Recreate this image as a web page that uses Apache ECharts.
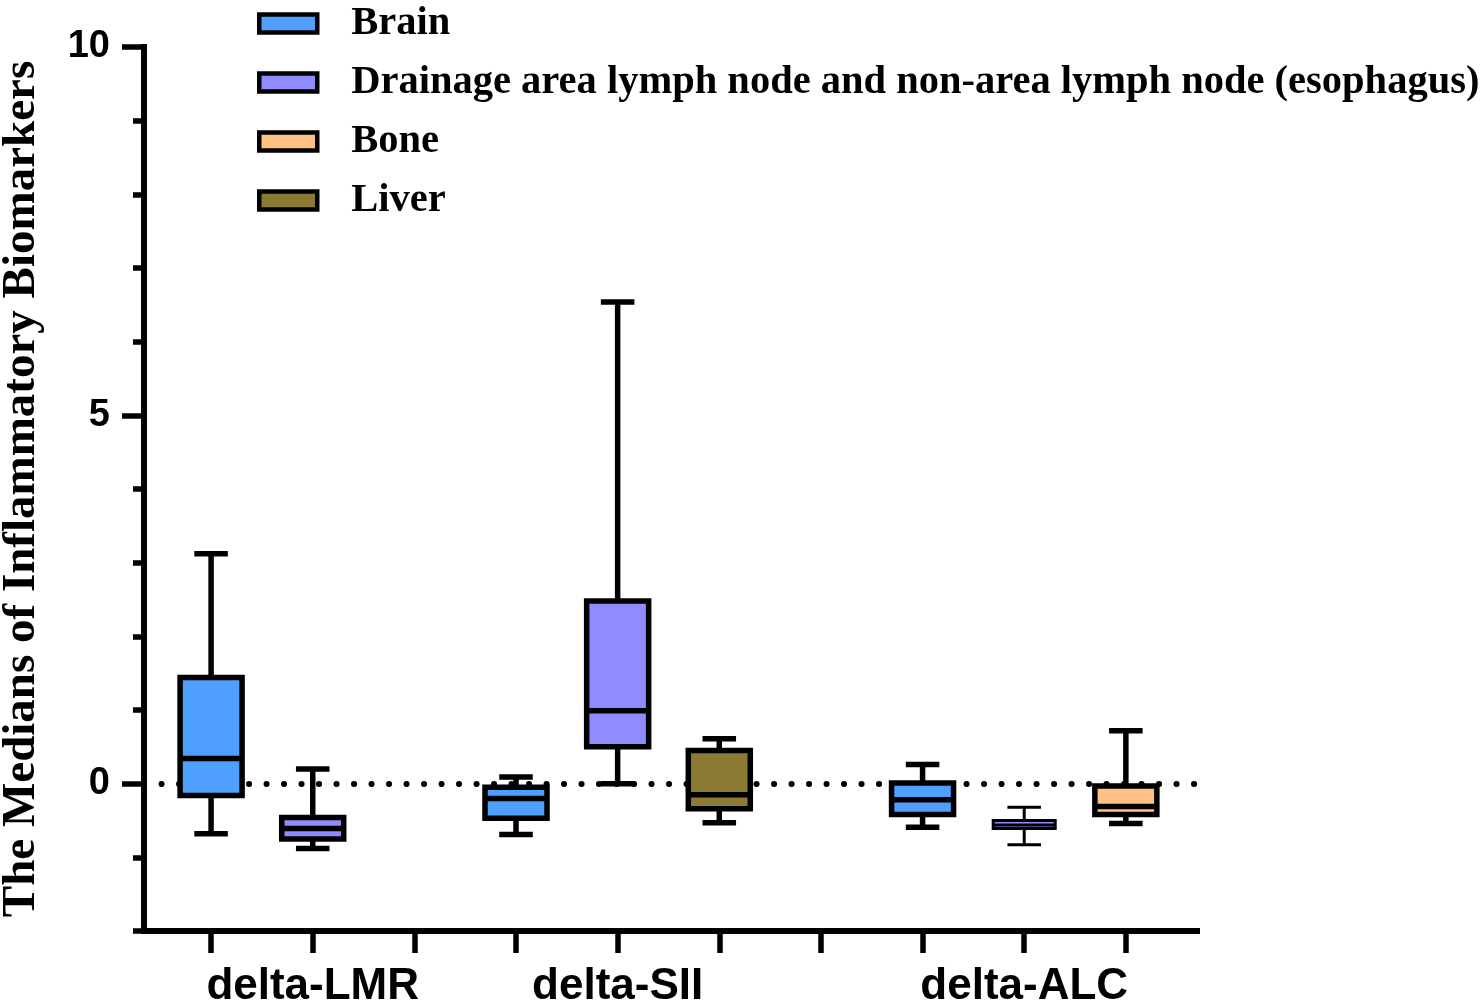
<!DOCTYPE html>
<html lang="en">

<head>
  <meta charset="UTF-8">
  <title>Medians of Inflammatory Biomarkers</title>
  <script src="https://cdn.jsdelivr.net/npm/echarts@6.0.0/dist/echarts.min.js"></script>
  <style>
    html, body {
      margin: 0;
      background: #fff;
    }

    #chart {
      width: 1480px;
      height: 1008px;
    }
  </style>
</head>

<body>
  <div id="chart"></div>

  <script>
    // group names (legend order)
    const groupNames = [
      'Brain',
      'Drainage area lymph node and non-area lymph node (esophagus)',
      'Bone',
      'Liver'
    ]
    const groupColors = ['#4f9fff', '#8f8cff', '#ffc285', '#8a7a33']

    // each row: [slot, min, Q1, median, Q3, max]
    const brain = [
      [1, -0.68, -0.16, 0.34, 1.44, 3.12],
      [4, -0.69, -0.47, -0.20, -0.05, 0.09],
      [8, -0.59, -0.42, -0.22, 0.01, 0.26]
    ]
    const drainage = [
      [2, -0.88, -0.75, -0.61, -0.46, 0.20],
      [5, 0.00, 0.50, 0.99, 2.48, 6.54],
      [9, -0.83, -0.61, -0.56, -0.50, -0.32]
    ]
    const bone = [
      [10, -0.54, -0.42, -0.31, -0.03, 0.72]
    ]
    const liver = [
      [6, -0.53, -0.34, -0.15, 0.45, 0.61]
    ]

    // x slots with ticks, and the category labels under them
    const xTickSlots = [1, 2, 3, 4, 5, 6, 7, 8, 9, 10]
    const xLabelSlots = [2, 5, 9]
    const xLabels = ['delta-LMR', 'delta-SII', 'delta-ALC']
    const yLabelValues = [0, 5, 10]

    const boxWidth = 0.61
    const capWidth = 0.33

    function renderBox(params, api) {
      const x = api.value(0)
      const lo = api.coord([x, api.value(1)])
      const q1 = api.coord([x, api.value(2)])
      const md = api.coord([x, api.value(3)])
      const q3 = api.coord([x, api.value(4)])
      const hi = api.coord([x, api.value(5)])
      const half = api.size([boxWidth, 0])[0] / 2
      const cap = api.size([capWidth, 0])[0] / 2
      // very flat boxes are drawn with thinner strokes, as in the original
      const lw = (q1[1] - q3[1]) < 15 ? 3 : 5.5
      const line = { stroke: '#000', lineWidth: lw }
      const cx = hi[0]
      return {
        type: 'group',
        children: [
          { type: 'line', shape: { x1: cx, y1: hi[1], x2: cx, y2: q3[1] }, style: line },
          { type: 'line', shape: { x1: cx, y1: lo[1], x2: cx, y2: q1[1] }, style: line },
          { type: 'line', shape: { x1: cx - cap, y1: hi[1], x2: cx + cap, y2: hi[1] }, style: line },
          { type: 'line', shape: { x1: cx - cap, y1: lo[1], x2: cx + cap, y2: lo[1] }, style: line },
          {
            type: 'rect',
            shape: { x: cx - half, y: q3[1], width: half * 2, height: q1[1] - q3[1] },
            style: { fill: api.visual('color'), stroke: '#000', lineWidth: lw }
          },
          { type: 'line', shape: { x1: cx - half, y1: md[1], x2: cx + half, y2: md[1] }, style: line }
        ]
      }
    }

    function boxSeries(name, data, color) {
      return {
        name: name,
        type: 'custom',
        renderItem: renderBox,
        itemStyle: { color: color },
        encode: { x: 0, y: [1, 2, 3, 4, 5] },
        data: data,
        z: 3
      }
    }

    const sans = 'Liberation Sans, Arial, sans-serif'
    const serif = 'Liberation Serif, Times New Roman, serif'

    const myChart = echarts.init(document.getElementById('chart'))
    const option = {
      animation: false,
      backgroundColor: '#fff',
      grid: {
        left: 144,
        right: 283,
        top: 47,
        bottom: 77,
        outerBoundsMode: 'none'
      },
      legend: {
        orient: 'vertical',
        left: 252,
        top: -2,
        itemWidth: 58,
        itemHeight: 18,
        itemGap: 18,
        selectedMode: false,
        textStyle: {
          fontFamily: serif,
          fontWeight: 'bold',
          fontSize: 40.5,
          color: '#000',
          padding: [0, 0, 0, 29]
        },
        data: groupNames.map((n, i) => ({
          name: n,
          icon: 'rect',
          itemStyle: { color: groupColors[i], borderColor: '#000', borderWidth: 4.5 }
        }))
      },
      xAxis: {
        type: 'value',
        min: 0.34,
        max: 10.7,
        splitLine: { show: false },
        axisLine: { onZero: false, lineStyle: { color: '#000', width: 6, cap: 'square' } },
        axisTick: {
          customValues: xTickSlots,
          length: 22,
          lineStyle: { color: '#000', width: 5.5 }
        },
        axisLabel: {
          customValues: xLabelSlots,
          formatter: v => xLabels[xLabelSlots.indexOf(v)] || '',
          fontFamily: sans,
          fontWeight: 'bold',
          fontSize: 44,
          color: '#000',
          margin: 34
        }
      },
      yAxis: [{
        type: 'value',
        min: -2,
        max: 10,
        interval: 1,
        name: 'The Medians of Inflammatory Biomarkers',
        nameLocation: 'middle',
        nameGap: 99,
        nameTextStyle: {
          fontFamily: serif,
          fontWeight: 'bold',
          fontSize: 47,
          color: '#000'
        },
        splitLine: { show: false },
        axisLine: { show: true, onZero: false, lineStyle: { color: '#000', width: 6, cap: 'square' } },
        axisTick: { length: 11, lineStyle: { color: '#000', width: 5.5 } },
        axisLabel: {
          customValues: yLabelValues,
          fontFamily: sans,
          fontWeight: 'bold',
          fontSize: 38,
          color: '#000',
          margin: 34
        }
      }, {
        // long ticks at the labelled values
        type: 'value',
        min: -2,
        max: 10,
        position: 'left',
        splitLine: { show: false },
        axisLine: { show: false, onZero: false },
        axisTick: {
          show: true,
          customValues: yLabelValues,
          length: 22,
          lineStyle: { color: '#000', width: 5.5 }
        },
        axisLabel: { show: false }
      }],
      series: [
        {
          name: 'zero',
          type: 'line',
          data: [],
          z: 1,
          markLine: {
            z: 1,
            silent: true,
            symbol: 'none',
            label: { show: false },
            lineStyle: { color: '#000', width: 6, type: [0.1, 17.4], cap: 'round' },
            data: [{ yAxis: 0 }]
          }
        },
        boxSeries(groupNames[0], brain, groupColors[0]),
        boxSeries(groupNames[1], drainage, groupColors[1]),
        boxSeries(groupNames[2], bone, groupColors[2]),
        boxSeries(groupNames[3], liver, groupColors[3])
      ]
    }
    myChart.setOption(option)
  </script>
</body>

</html>
